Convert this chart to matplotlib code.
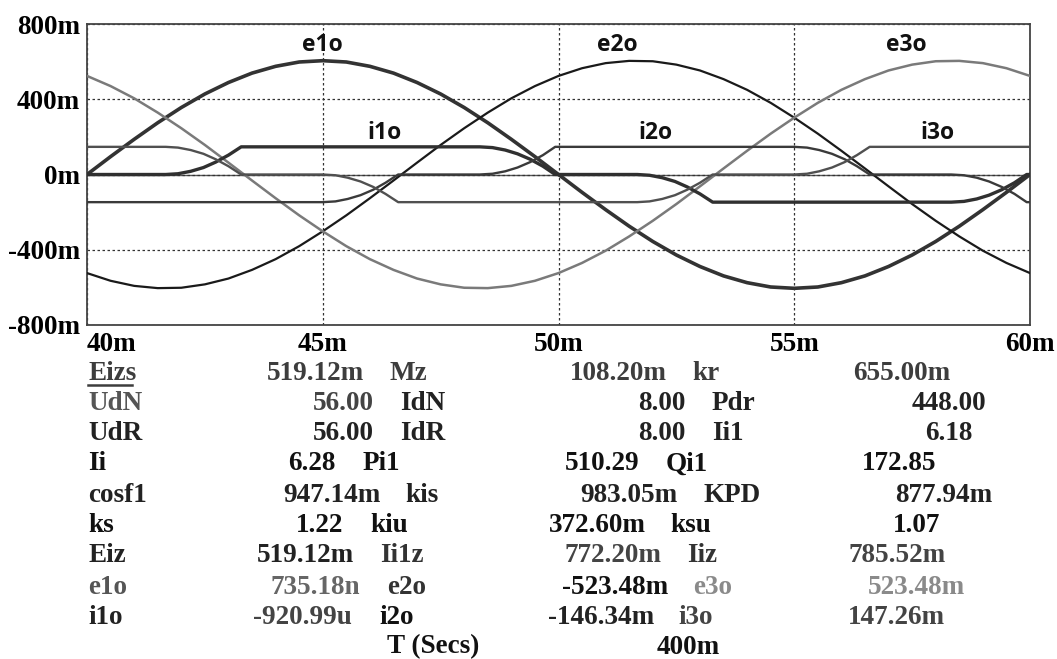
import matplotlib

matplotlib.use("Agg")
import matplotlib.pyplot as plt
from matplotlib.lines import Line2D

# time axis in ms, values in milli-units ("m")
t_e = [40.0, 40.5, 41.0, 41.5, 42.0, 42.5, 43.0, 43.5, 44.0, 44.5,
       45.0, 45.5, 46.0, 46.5, 47.0, 47.5, 48.0, 48.5, 49.0, 49.5,
       50.0, 50.5, 51.0, 51.5, 52.0, 52.5, 53.0, 53.5, 54.0, 54.5,
       55.0, 55.5, 56.0, 56.5, 57.0, 57.5, 58.0, 58.5, 59.0, 59.5, 60.0]
e1o = [0, 95, 187, 275, 356, 428, 489, 539, 575, 598,
       605, 598, 575, 539, 489, 428, 356, 275, 187, 95,
       0, -95, -187, -275, -356, -428, -489, -539, -575, -598,
       -605, -598, -575, -539, -489, -428, -356, -275, -187, -95, 0]
e2o = [-524, -565, -592, -604, -602, -584, -553, -507, -450, -381,
       -302, -217, -126, -32, 63, 157, 246, 329, 405, 470,
       524, 565, 592, 604, 602, 584, 553, 507, 450, 381,
       302, 217, 126, 32, -63, -157, -246, -329, -405, -470, -524]
e3o = [524, 470, 405, 329, 246, 157, 63, -32, -126, -217,
       -302, -381, -450, -507, -553, -584, -602, -604, -592, -565,
       -524, -470, -405, -329, -246, -157, -63, 32, 126, 217,
       302, 381, 450, 507, 553, 584, 602, 604, 592, 565, 524]

t_i = [40.0,
       41.67, 41.93, 42.2, 42.47, 42.73, 43.0, 43.27,
       45.0, 45.27, 45.53, 45.8, 46.07, 46.33, 46.6,
       48.33, 48.6, 48.87, 49.13, 49.4, 49.67, 49.93,
       51.67, 51.93, 52.2, 52.47, 52.73, 53.0, 53.27,
       55.0, 55.27, 55.53, 55.8, 56.07, 56.33, 56.6,
       58.33, 58.6, 58.87, 59.13, 59.4, 59.67, 59.93,
       60.0]
i1o = [0,
       0, 4, 17, 37, 66, 103, 147,
       147, 147, 147, 147, 147, 147, 147,
       147, 143, 130, 110, 81, 44, 0,
       0, -4, -17, -37, -66, -103, -147,
       -147, -147, -147, -147, -147, -147, -147,
       -147, -143, -130, -110, -81, -44, 0,
       0]
i2o = [-147,
       -147, -147, -147, -147, -147, -147, -147,
       -147, -143, -130, -110, -81, -44, 0,
       0, 4, 17, 37, 66, 103, 147,
       147, 147, 147, 147, 147, 147, 147,
       147, 143, 130, 110, 81, 44, 0,
       0, -4, -17, -37, -66, -103, -147,
       -147]
i3o = [147,
       147, 143, 130, 110, 81, 44, 0,
       0, -4, -17, -37, -66, -103, -147,
       -147, -147, -147, -147, -147, -147, -147,
       -147, -143, -130, -110, -81, -44, 0,
       0, 4, 17, 37, 66, 103, 147,
       147, 147, 147, 147, 147, 147, 147,
       147]

x_ticks = [40, 45, 50, 55, 60]
x_labels = ["40m", "45m", "50m", "55m", "60m"]
y_ticks = [800, 400, 0, -400, -800]
y_labels = ["800m", "400m", "0m", "-400m", "-800m"]

curve_names = ["e1o", "e2o", "e3o", "i1o", "i2o", "i3o"]

param_names = [
    ["Eizs", "Mz", "kr"],
    ["UdN", "IdN", "Pdr"],
    ["UdR", "IdR", "Ii1"],
    ["Ii", "Pi1", "Qi1"],
    ["cosf1", "kis", "KPD"],
    ["ks", "kiu", "ksu"],
    ["Eiz", "Ii1z", "Iiz"],
    ["e1o", "e2o", "e3o"],
    ["i1o", "i2o", "i3o"],
]
param_values = [
    ["519.12m", "108.20m", "655.00m"],
    ["56.00", "8.00", "448.00"],
    ["56.00", "8.00", "6.18"],
    ["6.28", "510.29", "172.85"],
    ["947.14m", "983.05m", "877.94m"],
    ["1.22", "372.60m", "1.07"],
    ["519.12m", "772.20m", "785.52m"],
    ["735.18n", "-523.48m", "523.48m"],
    ["-920.99u", "-146.34m", "147.26m"],
]
footer = ["T (Secs)", "400m"]

# ---- layout (pixels) ----
W, H = 1057, 659
row_y = [373, 403, 433, 464, 495, 525, 556, 587, 617]
name_x = [
    [88, 390, 692], [88, 400, 712], [88, 400, 712], [88, 363, 666],
    [88, 405, 703], [88, 370, 670], [88, 380, 687], [88, 387, 693],
    [88, 379, 678],
]
value_x = [
    [267, 570, 853], [313, 638, 912], [313, 638, 925], [288, 565, 862],
    [283, 580, 895], [296, 549, 893], [257, 565, 848], [270, 562, 868],
    [253, 548, 848],
]
name_col = [
    ["#3d3d3d", "#3d3d3d", "#3d3d3d"], ["#555555", "#222222", "#222222"],
    ["#222222"] * 3, ["#111111"] * 3, ["#222222"] * 3, ["#111111"] * 3,
    ["#222222", "#333333", "#333333"], ["#555555", "#333333", "#8a8a8a"],
    ["#222222", "#111111", "#444444"],
]
value_col = [
    ["#3d3d3d", "#3d3d3d", "#3d3d3d"], ["#444444", "#222222", "#222222"],
    ["#222222"] * 3, ["#111111"] * 3, ["#222222"] * 3, ["#111111"] * 3,
    ["#222222", "#444444", "#444444"], ["#666666", "#111111", "#8a8a8a"],
    ["#444444", "#222222", "#444444"],
]

serif = dict(family="Liberation Serif", weight="bold", size=19.5)

fig = plt.figure(figsize=(W / 100, H / 100), dpi=100)
ax = fig.add_axes([87 / W, 1 - 325 / H, (1030 - 87) / W, (325 - 24) / H])

ax.axhline(0, color="#555555", lw=1.0, zorder=1)
ax.plot(t_e, e1o, color="#333333", lw=2.6, zorder=3)
ax.plot(t_e, e2o, color="#1a1a1a", lw=1.6, zorder=3)
ax.plot(t_e, e3o, color="#7a7a7a", lw=1.8, zorder=3)
ax.plot(t_i, i1o, color="#303030", lw=2.4, zorder=3)
ax.plot(t_i, i2o, color="#3a3a3a", lw=1.7, zorder=3)
ax.plot(t_i, i3o, color="#505050", lw=1.7, zorder=3)

ax.set_xlim(40, 60)
ax.set_ylim(-800, 800)
ax.set_xticks(x_ticks)
ax.set_xticklabels(x_labels, fontdict=serif)
ax.set_yticks(y_ticks)
ax.set_yticklabels(y_labels, fontdict=serif)
ax.get_xticklabels()[0].set_ha("left")
ax.tick_params(length=0, pad=5)
ax.grid(True, color="#333333", lw=0.9, linestyle=(0, (2, 2)), zorder=0)
for s in ax.spines.values():
    s.set_color("#444444")
    s.set_linewidth(1.3)

# curve labels
label_pos = [(45.0, 686), (51.24, 686), (57.37, 686), (46.32, 218), (52.05, 218), (58.03, 218)]
for name, (lx, ly) in zip(curve_names, label_pos):
    ax.text(lx, ly, name, ha="center", va="center", fontsize=16.5,
            fontweight="bold", family="Open Sans", color="#111111", zorder=5)

# parameter table under the chart
for r, y in enumerate(row_y):
    for c in range(3):
        fig.text(name_x[r][c] / W, 1 - y / H, param_names[r][c], ha="left", va="center",
                 color=name_col[r][c], **serif)
        fig.text(value_x[r][c] / W, 1 - y / H, param_values[r][c], ha="left", va="center",
                 color=value_col[r][c], **serif)
fig.text(387 / W, 1 - 647 / H, footer[0], ha="left", va="center", color="#111111", **serif)
fig.text(657 / W, 1 - 647 / H, footer[1], ha="left", va="center", color="#111111", **serif)
fig.add_artist(Line2D([88 / W, 132 / W], [1 - 385 / H, 1 - 385 / H], color="#3d3d3d", lw=1.8))

fig.savefig("out.png", dpi=100)
